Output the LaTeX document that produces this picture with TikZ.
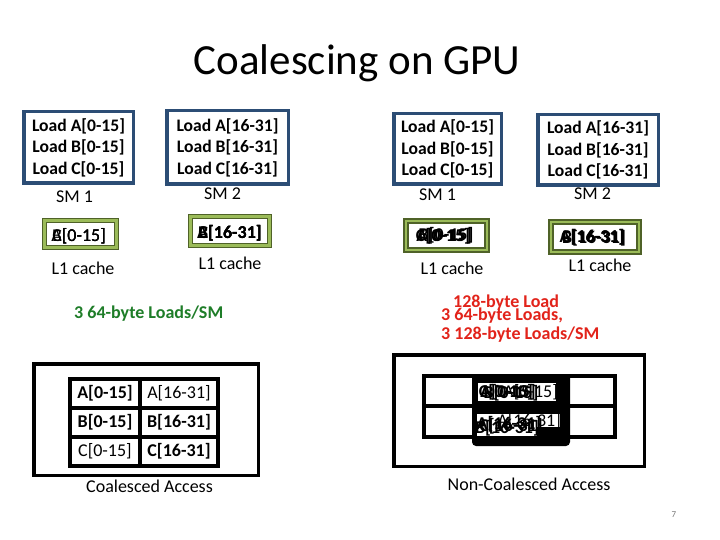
\documentclass[tikz,border=0pt]{standalone}
\usepackage{fontspec}
\setmainfont{Carlito}
\definecolor{smblue}{RGB}{44,77,117}
\definecolor{l1light}{RGB}{155,187,89}
\definecolor{l1dark}{RGB}{79,98,40}
\definecolor{txtgreen}{RGB}{30,125,40}
\definecolor{txtred}{RGB}{226,35,26}
\definecolor{pggray}{RGB}{120,120,120}
\newcommand\bodyfont{\fontsize{18}{21}\selectfont}
\begin{document}
\begin{tikzpicture}[x=1pt,y=-1pt,
  smbox/.style={draw=smblue, line width=3.5pt, fill=white, inner sep=0pt, align=center,
    font=\fontsize{17.6}{21.5}\selectfont\bfseries},
  lbl/.style={inner sep=0pt, font=\bodyfont},
  blbl/.style={inner sep=0pt, font=\bodyfont\bfseries},
  l1thin/.style={draw=l1dark, line width=0.8pt, double=l1light, double distance=3pt, fill=white, inner sep=0pt},
  l1thick/.style={draw=l1dark, line width=1.8pt, double=l1light, double distance=2pt, fill=white, inner sep=0pt},
  cell/.style={draw=black, line width=4.5pt, fill=white, inner sep=0pt, minimum height=29pt, font=\bodyfont},
  frame/.style={draw=black, line width=3.5pt, inner sep=0pt},
  row/.style={draw=black, line width=3.5pt, fill=white, inner sep=0pt, minimum width=191pt},
]
\useasboundingbox[fill=white] (0,0) rectangle (720,540);

% title
\node[inner sep=0pt, anchor=base, font=\fontsize{43}{50}\selectfont] (title) at (357,75) {Coalescing on GPU};

% ---------- left group ----------
\node[smbox, minimum width=109.5pt, minimum height=71.5pt] (lsm1) at (78.5,147.5)
  {Load A[0-15]\\Load B[0-15]\\Load C[0-15]};
\node[smbox, minimum width=121.5pt, minimum height=73.5pt] (lsm2) at (227.5,147.5)
  {Load A[16-31]\\Load B[16-31]\\Load C[16-31]};
\node[lbl] (lsm1l) at (74.5,197) {SM 1};
\node[lbl] (lsm2l) at (222.5,194) {SM 2};

\node[l1thin, minimum width=72.4pt, minimum height=27.4pt] (ll1a) at (80.5,234) {};
\node[lbl, anchor=east] (ll1aA) at (106,236) {A[0-15]};
\node[lbl, anchor=east] (ll1aB) at (106,236) {B[0-15]};
\node[lbl, anchor=east] (ll1aC) at (106,236) {C[0-15]};
\node[l1thin, minimum width=79.4pt, minimum height=29.4pt] (ll1b) at (230,231) {};
\node[blbl, anchor=east] (ll1bA) at (262,233) {A[16-31]};
\node[blbl, anchor=east] (ll1bB) at (262,233) {B[16-31]};
\node[blbl, anchor=east] (ll1bC) at (262,233) {C[16-31]};
\node[lbl] (ll1al) at (83,268) {L1 cache};
\node[lbl] (ll1bl) at (230,263) {L1 cache};

\node[blbl, anchor=west, text=txtgreen] (green) at (74,314) {3 64-byte Loads/SM};

% coalesced access
\node[frame, minimum width=224.5pt, minimum height=111.5pt] (cframe) at (146,419.5) {};
\node[cell, minimum width=70pt, font=\bodyfont\bfseries] (cA1) at (105,393.5) {A[0-15]};
\node[cell, minimum width=78pt] (cA2) at (179,393.5) {A[16-31]};
\node[cell, minimum width=70pt, font=\bodyfont\bfseries] (cB1) at (105,422.5) {B[0-15]};
\node[cell, minimum width=78pt, font=\bodyfont\bfseries] (cB2) at (179,422.5) {B[16-31]};
\node[cell, minimum width=70pt] (cC1) at (105,451.5) {C[0-15]};
\node[cell, minimum width=78pt, font=\bodyfont\bfseries] (cC2) at (179,451.5) {C[16-31]};
\node[lbl] (clbl) at (149.5,486) {Coalesced Access};

% ---------- right group ----------
\node[smbox, minimum width=107.5pt, minimum height=70.5pt] (rsm1) at (447.5,149)
  {Load A[0-15]\\Load B[0-15]\\Load C[0-15]};
\node[smbox, minimum width=120.5pt, minimum height=70.5pt] (rsm2) at (598,150)
  {Load A[16-31]\\Load B[16-31]\\Load C[16-31]};
\node[lbl] (rsm1l) at (437.5,195) {SM 1};
\node[lbl] (rsm2l) at (592.5,194) {SM 2};

\node[l1thick, minimum width=81.4pt, minimum height=29.4pt] (rl1a) at (446.5,235.5) {};
\node[blbl] (rl1aA) at (444,236) {A[0-15]};
\node[blbl] (rl1aB) at (446,235) {B[0-15]};
\node[blbl] (rl1aC) at (443,236) {C[0-15]};
\node[l1thick, minimum width=88.4pt, minimum height=30.4pt] (rl1b) at (595,237) {};
\node[blbl] (rl1bA) at (592,237) {A[16-31]};
\node[blbl] (rl1bB) at (594,238) {B[16-31]};
\node[blbl] (rl1bC) at (593,237) {C[16-31]};
\node[lbl] (rl1al) at (452,268) {L1 cache};
\node[lbl] (rl1bl) at (600,265) {L1 cache};

\node[blbl, anchor=west, text=txtred] (red1) at (453,303) {128-byte Load};
\node[blbl, anchor=west, text=txtred] (red2) at (441,316) {3 64-byte Loads,};
\node[blbl, anchor=west, text=txtred] (red3) at (441,335) {3 128-byte Loads/SM};

% non-coalesced access
\node[frame, minimum width=250.5pt, minimum height=111.5pt] (nframe) at (519,410.5) {};
\node[row, minimum height=30pt] (nr1) at (519.5,391) {};
\node[row, minimum height=31pt] (nr2) at (519.5,421.5) {};
\node[fill=black, rounded corners=4pt, minimum width=98pt, minimum height=72pt, inner sep=0pt] (nblk) at (521,410) {};
\node[fill=white, minimum width=78pt, minimum height=18pt, inner sep=0pt] (nw1) at (517,392) {};
\node[lbl, anchor=east] (n1r) at (558,392) {A[0-15]};
\node[blbl] (n1a) at (508,392) {A[0-15]};
\node[blbl] (n1b) at (511,393) {B[0-15]};
\node[blbl] (n1c) at (506,392) {C[0-15]};
\node[fill=white, minimum width=83pt, minimum height=13pt, inner sep=0pt] (nw2) at (518.5,420.5) {};
\node[fill=white, minimum width=60pt, minimum height=12pt, inner sep=0pt] (nw3) at (507,430) {};
\node[lbl, anchor=east] (n2r) at (561,421) {A[16-31]};
\node[blbl] (n2a) at (509,424) {A[16-31]};
\node[blbl] (n2b) at (507,428) {B[16-31]};
\node[blbl] (n2c) at (511,426) {C[16-31]};
\node[lbl] (nlbl) at (529,484) {Non-Coalesced Access};

% page number
\node[inner sep=0pt, text=pggray, font=\fontsize{9}{11}\selectfont] (pg) at (674,515) {7};
\end{tikzpicture}
\end{document}
